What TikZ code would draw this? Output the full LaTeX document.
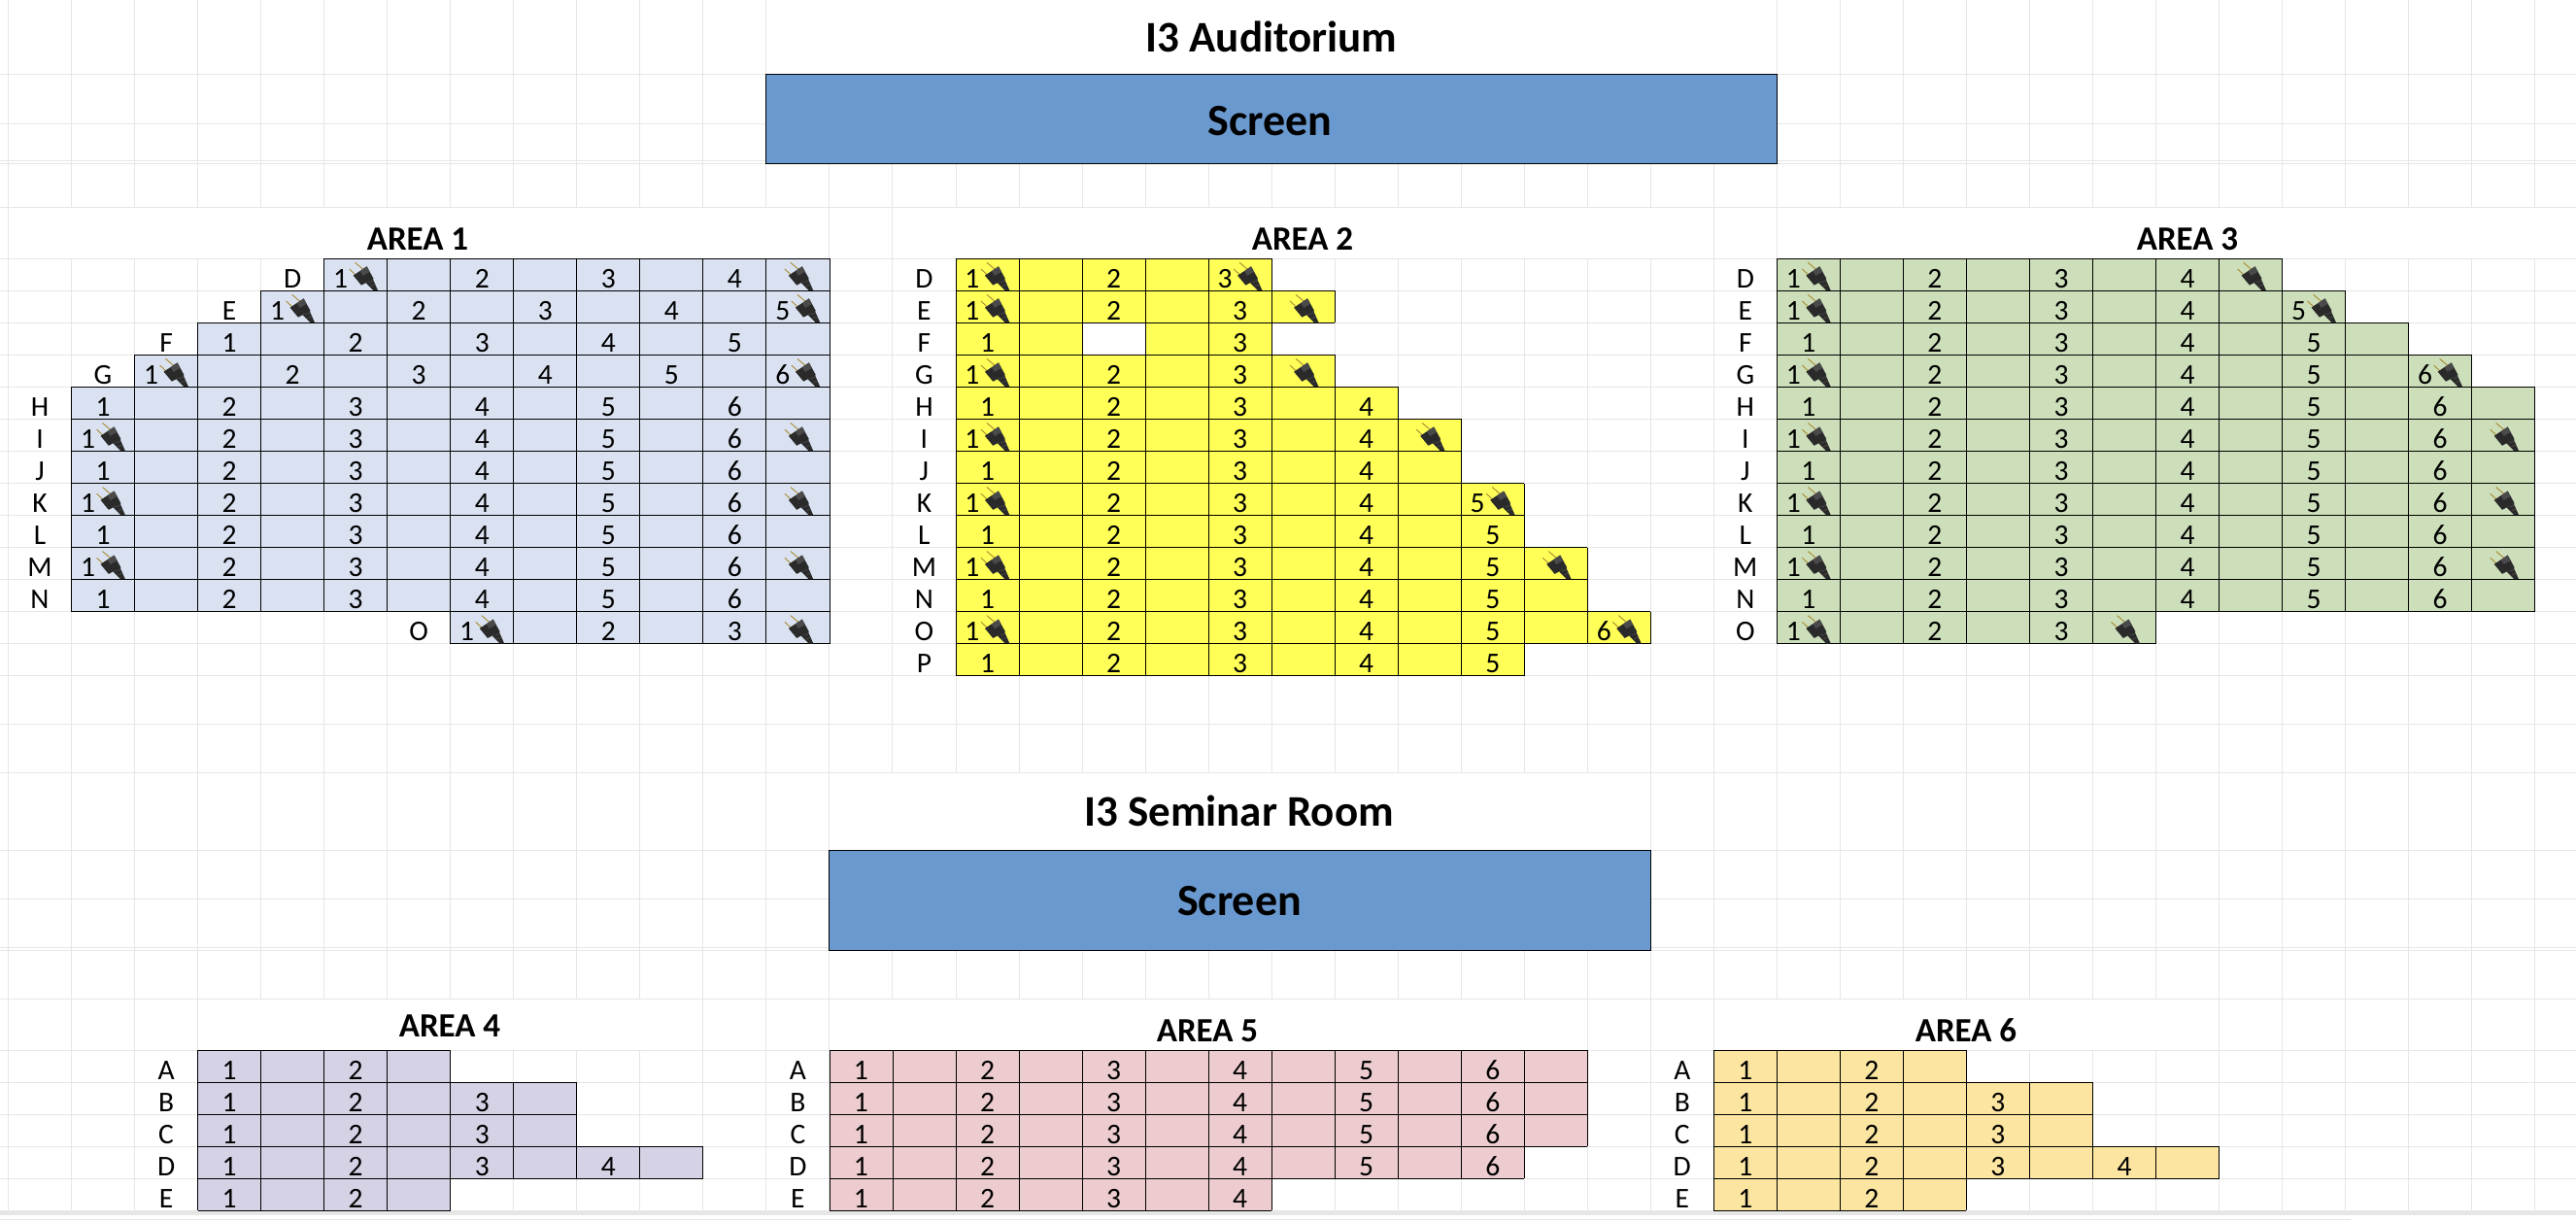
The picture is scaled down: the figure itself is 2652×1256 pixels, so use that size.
\documentclass[tikz,border=0pt]{standalone}
\usepackage{fontspec}
\setmainfont{Carlito}
\definecolor{gridc}{HTML}{E6E6E6}
\definecolor{screenc}{HTML}{6A99D0}
\definecolor{aone}{HTML}{DAE2F2}
\definecolor{atwo}{HTML}{FFFF57}
\definecolor{athree}{HTML}{CCDFBA}
\definecolor{afour}{HTML}{D6D2E6}
\definecolor{afive}{HTML}{ECCCCF}
\definecolor{asix}{HTML}{FBE5A0}
\definecolor{plugbody}{HTML}{2A2A2A}
\definecolor{plugside}{HTML}{4A4A4A}
\definecolor{pluggold}{HTML}{A88A30}
\tikzset{
  sheetv/.style={draw=gridc,line width=0.9pt},
  sheeth/.style={draw=gridc,line width=1.4pt},
  seatv/.style={draw=black,line width=0.8pt},
  seath/.style={draw=black,line width=1.5pt},
  seattext/.style={inner sep=0pt,anchor=base,font=\fontsize{29.5}{31}\selectfont},
  areatitle/.style={inner sep=0pt,anchor=base,font=\bfseries\fontsize{35}{37}\selectfont},
  roomtitle/.style={inner sep=0pt,anchor=base,font=\bfseries\fontsize{45}{47}\selectfont},
  screentext/.style={inner sep=0pt,anchor=base,font=\bfseries\fontsize{46}{48}\selectfont},
  screenbox/.style={fill=screenc,draw=black,line width=1pt},
  area/.style={x=65.03pt,y=-33.03pt},
}
\newcommand\Ar{}
\newcommand\Af{}
% area: #1 tag, #2 fill, #3 grid line, #4 top y
\newenvironment{seatarea}[4]{%
  \begin{scope}[shift={(8.5+65.03*#3,#4)},area]
  \renewcommand\Ar{#1}\renewcommand\Af{#2}%
}{\end{scope}}
% row: #1 index, #2 letter, #3 first col, #4 last col
\newcommand\rw[4]{%
  \foreach \c in {#3,...,#4}{%
    \fill[\Af] (\c,#1) rectangle (\c+1,#1+1);
    \draw[seatv] (\c,#1) -- (\c,#1+1);
    \draw[seatv] (\c+1,#1) -- (\c+1,#1+1);
    \draw[seath] (\c,#1) -- (\c+1,#1);
    \draw[seath] (\c,#1+1) -- (\c+1,#1+1);
  }%
  \node[seattext] (\Ar-#2) at (#3-0.5,#1+0.9) {#2};
}
% plain numbers: #1 row, #2 first col, #3 from, #4 to
\newcommand\nm[4]{%
  \foreach \k in {#3,...,#4}{%
    \pgfmathtruncatemacro\c{#2+2*(\k-1)}
    \node[seattext] (\Ar-#1-\c) at (\c+0.5,#1+0.9) {\k};
  }%
}
\newcommand\plug[3]{%
  \begin{scope}[shift={(#1,#2)},xshift=#3,x=1pt,y=-1pt]
    \draw[pluggold,line width=0.9pt] (32,4) -- (41.7,12.3);
    \draw[pluggold,line width=0.9pt] (26,10.7) -- (35,19);
    \fill[plugbody] (30,17.3) -- (44,8) -- (51,20.7) -- (38.3,27.3) -- cycle;
    \fill[plugside] (37,12.8) -- (44,8) -- (47,13.5) -- (40,17.5) -- cycle;
    \fill[plugbody] (43,25) -- (50,20.5) -- (55.5,33) -- (51,33) -- cycle;
    \draw[plugside,line width=0.7pt] (46,24.5) -- (50.5,22.8);
    \draw[plugside,line width=0.7pt] (48,28.2) -- (52.5,26.6);
  \end{scope}%
}
% number with plug: #1 row, #2 col, #3 number
\newcommand\pn[3]{%
  \node[seattext] (\Ar-#1-#2) at (#2+0.2615,#1+0.9) {#3};
  \plug{#2}{#1}{0pt}%
}
% plug alone: #1 row, #2 col
\newcommand\pg[2]{\plug{#2}{#1}{-7pt}}
\begin{document}
\begin{tikzpicture}[x=1pt,y=-1pt]
\useasboundingbox (0,0) rectangle (2652,1256);
\fill[white] (0,0) rectangle (2652,1256);
% sheet grid: horizontals
\foreach \y in {76.3,127.3,165.3,168.3,213.3,266.3,299.3,332.4,365.4,398.4,431.5,464.5,497.5,530.5,563.6,596.6,629.6,662.7,695.7,745.3,795.3,875.3,925.3,975.3,978.3,1028.3,1081.3,1114.3,1147.4,1180.4,1213.4}
  \draw[sheeth] (0,\y) -- (2652,\y);
% sheet grid: verticals
\foreach \k in {0,...,12,28,29,...,40} \draw[sheetv] (8.5+65.03*\k,0) -- (8.5+65.03*\k,76.3);
\foreach \k in {0,...,12,28,29,...,40} \draw[sheetv] (8.5+65.03*\k,76.3) -- (8.5+65.03*\k,168.3);
\foreach \k in {0,...,40} \draw[sheetv] (8.5+65.03*\k,168.3) -- (8.5+65.03*\k,213.3);
\foreach \k in {0,13,14,27,28} \draw[sheetv] (8.5+65.03*\k,213.3) -- (8.5+65.03*\k,266.3);
\foreach \k in {0,...,40} \draw[sheetv] (8.5+65.03*\k,266.3) -- (8.5+65.03*\k,795.3);
\foreach \k in {0,...,13,26,27,...,40} \draw[sheetv] (8.5+65.03*\k,795.3) -- (8.5+65.03*\k,978.3);
\foreach \k in {0,...,40} \draw[sheetv] (8.5+65.03*\k,978.3) -- (8.5+65.03*\k,1028.3);
\foreach \k in {0,1,2,3,11,12,13,25,26,27,35,36,37,38,39,40} \draw[sheetv] (8.5+65.03*\k,1028.3) -- (8.5+65.03*\k,1081.3);
\foreach \k in {0,...,40} \draw[sheetv] (8.5+65.03*\k,1081.3) -- (8.5+65.03*\k,1246.4);
\fill[gridc] (0,1246.4) rectangle (2652,1251);
\fill[gridc] (0,1254.8) rectangle (2420,1256);
% room titles and screens
\node[roomtitle] (auditorium) at (1309,53) {I3 Auditorium};
\node[roomtitle] (seminar) at (1275.5,850.7) {I3 Seminar Room};
\path[screenbox] (8.5+65.03*12,76.3) rectangle (8.5+65.03*28,168.3);
\node[screentext] (screenone) at (1307.5,139.3) {Screen};
\path[screenbox] (8.5+65.03*13,875.3) rectangle (8.5+65.03*26,978.3);
\node[screentext] (screentwo) at (1276,942.7) {Screen};
% area titles
\node[areatitle] (t1) at (430,257.3) {AREA 1};
\node[areatitle] (t2) at (1341,257.3) {AREA 2};
\node[areatitle] (t3) at (2252,257.3) {AREA 3};
\node[areatitle] (t4) at (463,1067.3) {AREA 4};
\node[areatitle] (t5) at (1243,1072.7) {AREA 5};
\node[areatitle] (t6) at (2024,1072.7) {AREA 6};
% AREA 1
\begin{seatarea}{aone}{aone}{1}{266.3}
\rw{0}{D}{4}{11}\pn{0}{4}{1}\nm{0}{4}{2}{4}\pg{0}{11}
\rw{1}{E}{3}{11}\pn{1}{3}{1}\nm{1}{3}{2}{4}\pn{1}{11}{5}
\rw{2}{F}{2}{11}\nm{2}{2}{1}{5}
\rw{3}{G}{1}{11}\pn{3}{1}{1}\nm{3}{1}{2}{5}\pn{3}{11}{6}
\rw{4}{H}{0}{11}\nm{4}{0}{1}{6}
\rw{5}{I}{0}{11}\pn{5}{0}{1}\nm{5}{0}{2}{6}\pg{5}{11}
\rw{6}{J}{0}{11}\nm{6}{0}{1}{6}
\rw{7}{K}{0}{11}\pn{7}{0}{1}\nm{7}{0}{2}{6}\pg{7}{11}
\rw{8}{L}{0}{11}\nm{8}{0}{1}{6}
\rw{9}{M}{0}{11}\pn{9}{0}{1}\nm{9}{0}{2}{6}\pg{9}{11}
\rw{10}{N}{0}{11}\nm{10}{0}{1}{6}
\rw{11}{O}{6}{11}\pn{11}{6}{1}\nm{11}{6}{2}{3}\pg{11}{11}
\end{seatarea}
% AREA 2
\begin{seatarea}{atwo}{atwo}{15}{266.3}
\rw{0}{D}{0}{4}\pn{0}{0}{1}\nm{0}{0}{2}{2}\pn{0}{4}{3}
\rw{1}{E}{0}{5}\pn{1}{0}{1}\nm{1}{0}{2}{3}\pg{1}{5}
\rw{2}{F}{0}{4}\nm{2}{0}{1}{1}\nm{2}{0}{3}{3}
\fill[white] (2,2) rectangle (3,3);
\draw[seatv] (2,2) -- (2,3) (3,2) -- (3,3);
\draw[seath] (2,2) -- (3,2);
\rw{3}{G}{0}{5}\pn{3}{0}{1}\nm{3}{0}{2}{3}\pg{3}{5}
\rw{4}{H}{0}{6}\nm{4}{0}{1}{4}
\rw{5}{I}{0}{7}\pn{5}{0}{1}\nm{5}{0}{2}{4}\pg{5}{7}
\rw{6}{J}{0}{7}\nm{6}{0}{1}{4}
\rw{7}{K}{0}{8}\pn{7}{0}{1}\nm{7}{0}{2}{4}\pn{7}{8}{5}
\rw{8}{L}{0}{8}\nm{8}{0}{1}{5}
\rw{9}{M}{0}{9}\pn{9}{0}{1}\nm{9}{0}{2}{5}\pg{9}{9}
\rw{10}{N}{0}{9}\nm{10}{0}{1}{5}
\rw{11}{O}{0}{10}\pn{11}{0}{1}\nm{11}{0}{2}{5}\pn{11}{10}{6}
\rw{12}{P}{0}{8}\nm{12}{0}{1}{5}
\end{seatarea}
% AREA 3
\begin{seatarea}{athree}{athree}{28}{266.3}
\rw{0}{D}{0}{7}\pn{0}{0}{1}\nm{0}{0}{2}{4}\pg{0}{7}
\rw{1}{E}{0}{8}\pn{1}{0}{1}\nm{1}{0}{2}{4}\pn{1}{8}{5}
\rw{2}{F}{0}{9}\nm{2}{0}{1}{5}
\rw{3}{G}{0}{10}\pn{3}{0}{1}\nm{3}{0}{2}{5}\pn{3}{10}{6}
\rw{4}{H}{0}{11}\nm{4}{0}{1}{6}
\rw{5}{I}{0}{11}\pn{5}{0}{1}\nm{5}{0}{2}{6}\pg{5}{11}
\rw{6}{J}{0}{11}\nm{6}{0}{1}{6}
\rw{7}{K}{0}{11}\pn{7}{0}{1}\nm{7}{0}{2}{6}\pg{7}{11}
\rw{8}{L}{0}{11}\nm{8}{0}{1}{6}
\rw{9}{M}{0}{11}\pn{9}{0}{1}\nm{9}{0}{2}{6}\pg{9}{11}
\rw{10}{N}{0}{11}\nm{10}{0}{1}{6}
\rw{11}{O}{0}{5}\pn{11}{0}{1}\nm{11}{0}{2}{3}\pg{11}{5}
\end{seatarea}
% AREA 4
\begin{seatarea}{afour}{afour}{3}{1081.3}
\rw{0}{A}{0}{3}\nm{0}{0}{1}{2}
\rw{1}{B}{0}{5}\nm{1}{0}{1}{3}
\rw{2}{C}{0}{5}\nm{2}{0}{1}{3}
\rw{3}{D}{0}{7}\nm{3}{0}{1}{4}
\rw{4}{E}{0}{3}\nm{4}{0}{1}{2}
\end{seatarea}
% AREA 5
\begin{seatarea}{afive}{afive}{13}{1081.3}
\rw{0}{A}{0}{11}\nm{0}{0}{1}{6}
\rw{1}{B}{0}{11}\nm{1}{0}{1}{6}
\rw{2}{C}{0}{11}\nm{2}{0}{1}{6}
\rw{3}{D}{0}{10}\nm{3}{0}{1}{6}
\rw{4}{E}{0}{6}\nm{4}{0}{1}{4}
\end{seatarea}
% AREA 6
\begin{seatarea}{asix}{asix}{27}{1081.3}
\rw{0}{A}{0}{3}\nm{0}{0}{1}{2}
\rw{1}{B}{0}{5}\nm{1}{0}{1}{3}
\rw{2}{C}{0}{5}\nm{2}{0}{1}{3}
\rw{3}{D}{0}{7}\nm{3}{0}{1}{4}
\rw{4}{E}{0}{3}\nm{4}{0}{1}{2}
\end{seatarea}
\end{tikzpicture}
\end{document}
